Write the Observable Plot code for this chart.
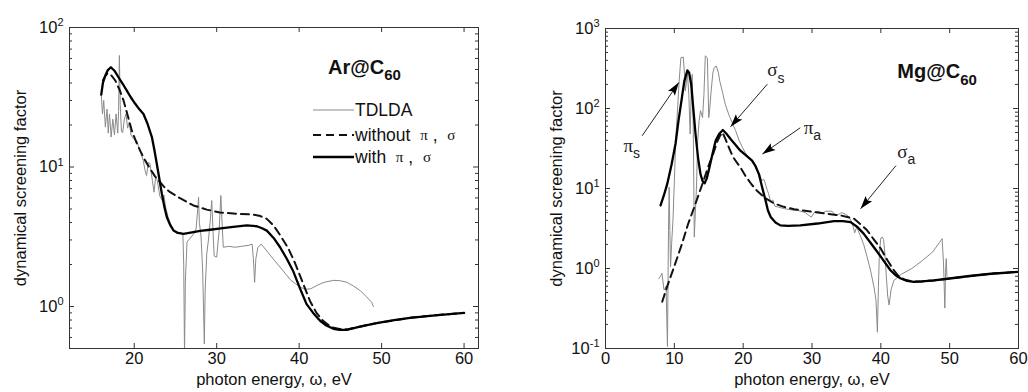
<!DOCTYPE html>
<html><head><meta charset="utf-8">
<script src="https://cdn.jsdelivr.net/npm/d3@7"></script>
<script src="https://cdn.jsdelivr.net/npm/@observablehq/plot@0.6"></script>
<style>
body{margin:0;background:#fff;font-family:"Liberation Sans",Arial,sans-serif;}
#wrap{position:relative;width:1028px;height:392px;overflow:hidden;background:#fff;}
.panel{position:absolute;top:0;}
.row{position:absolute;height:20px;display:flex;align-items:center;white-space:nowrap;font-size:17.5px;color:#111;}
.gk{font-family:"Liberation Serif","Times New Roman",serif;font-size:15px;}
</style></head><body>
<div id="wrap"><div id="left" class="panel" style="left:0"></div><div id="right" class="panel" style="left:520px"></div></div>
<script>
// ---------------- data ----------------
// Ar@C60 : [photon energy eV, screening factor]
const arTDLDA = [[16.0,33],[16.15,24],[16.3,30],[16.5,19.3],[16.7,26],[16.85,17.5],[17.0,24],[17.2,16.4],[17.4,22],[17.6,17],[17.8,24],[18.0,17.5],[18.1,25],[18.2,63],[18.3,28],[18.45,18],[18.6,17.6],[18.8,22],[19.0,24],[19.2,19],[19.4,21],[19.6,17],[19.9,16],[20.3,15.5],[20.7,13],[21.1,11.1],[21.3,9.5],[21.5,8.7],[21.7,10.8],[21.9,10.6],[22.2,8.0],[22.4,6.6],[22.6,8.5],[22.8,8.0],[23.1,6.2],[23.4,5.75],[23.6,6.3],[23.8,5.16],[24.1,4.4],[24.4,3.92],[24.8,3.5],[25.2,3.33],[25.6,3.4],[25.9,3.3],[26.0,2.0],[26.1,0.45],[26.2,1.5],[26.4,2.9],[26.8,3.1],[27.2,3.3],[27.5,3.6],[27.7,5.0],[27.8,6.07],[27.9,4.0],[28.1,3.2],[28.3,1.8],[28.5,0.54],[28.6,1.3],[28.8,2.4],[29.0,3.0],[29.2,4.0],[29.4,5.75],[29.55,3.5],[29.7,2.3],[30.0,2.26],[30.3,3.5],[30.5,6.24],[30.65,4.0],[30.8,2.66],[31.5,2.7],[32.2,2.66],[33.0,2.7],[33.8,2.74],[34.3,2.8],[34.45,2.2],[34.6,1.49],[34.75,2.2],[35.0,2.66],[35.4,2.8],[36.2,2.45],[37.0,2.14],[38.0,1.82],[39.0,1.54],[39.6,1.45],[40.2,1.37],[40.8,1.33],[41.4,1.34],[42.2,1.42],[43.0,1.49],[44.2,1.54],[45.0,1.53],[45.8,1.49],[46.6,1.40],[47.4,1.30],[48.2,1.17],[48.8,1.07],[49.0,1.0]];
const arWithout = [[16.2,41.7],[16.5,45],[16.8,47],[17.2,45.5],[17.7,41.7],[18.2,36],[18.7,30],[19.2,23.5],[19.7,18.3],[20.2,15.3],[20.72,13.1],[21.3,11.2],[21.93,9.7],[22.5,8.6],[23.14,7.78],[23.7,7.1],[24.36,6.6],[25.5,6.0],[27.18,5.3],[28.8,4.95],[30.4,4.72],[32.5,4.62],[34.45,4.56],[35.3,4.45],[36.08,4.25],[36.9,3.8],[37.69,3.25],[38.7,2.6],[39.5,2.05],[40.5,1.45],[41.3,1.1],[42.1,0.9],[42.9,0.79],[43.9,0.71],[44.9,0.69],[45.8,0.685],[47.5,0.72],[49.4,0.76],[53.45,0.83],[56.5,0.865],[60,0.9]];
const arWith = [[16.0,33],[16.2,40],[16.5,45.3],[16.8,49.5],[17.17,51.9],[17.6,49],[18.09,44],[18.6,39.5],[19.1,35.3],[19.6,31.5],[20.1,28.5],[20.6,26],[21.12,24],[21.6,20.5],[22.14,16.4],[22.45,13.2],[22.74,10.5],[23.05,8.2],[23.35,6.43],[23.65,5.2],[23.96,4.36],[24.35,3.85],[24.76,3.51],[25.3,3.37],[25.97,3.32],[27.0,3.4],[28.0,3.48],[29.2,3.55],[30.5,3.63],[32.0,3.72],[33.65,3.81],[34.86,3.76],[35.5,3.64],[36.08,3.5],[36.9,3.1],[37.69,2.66],[38.5,2.2],[39.3,1.78],[40.1,1.35],[40.9,1.04],[41.7,0.9],[42.54,0.79],[43.3,0.73],[44.15,0.692],[44.9,0.68],[45.77,0.68],[47.5,0.72],[49.4,0.76],[51.5,0.8],[53.45,0.83],[56.5,0.865],[60,0.9]];

// Mg@C60
const mgTDLDA = [[7.75,0.75],[8.0,0.8],[8.2,0.87],[8.5,0.54],[8.8,0.6],[9.0,0.106],[9.15,3.0],[9.25,10.4],[9.35,3.0],[9.45,1.05],[9.6,2.0],[9.8,4.0],[10.0,12],[10.2,39.7],[10.5,110],[10.7,220],[10.95,431],[11.3,440],[11.5,250],[11.6,166],[11.9,280],[12.1,150],[12.3,48],[12.45,150],[12.6,267],[12.75,60],[12.9,2.47],[13.05,5],[13.2,9.4],[13.4,40],[13.6,70],[13.8,94],[14.1,77],[14.3,150],[14.5,455],[14.8,430],[15.0,77],[15.15,100],[15.3,150],[15.6,280],[15.8,325],[16.1,340],[16.4,280],[16.6,220],[17.0,160],[17.4,113],[18.0,80],[18.9,53],[19.4,40],[19.9,32.7],[20.3,28],[20.8,24],[21.2,22],[21.5,20.3],[22.0,17],[22.4,15],[22.7,12.6],[23.0,13],[23.2,11.7],[23.5,9.5],[23.7,8.6],[24.0,6.75],[24.3,7.2],[24.6,6.0],[25.1,5.86],[26.0,5.6],[27.0,5.4],[28.0,5.3],[29.0,5.0],[29.9,4.39],[30.4,5.1],[30.9,5.2],[31.5,4.9],[32.0,5.2],[32.9,5.2],[33.4,4.6],[33.8,4.7],[34.3,5.0],[34.8,4.8],[35.3,4.5],[35.8,3.8],[36.2,2.8],[36.5,3.3],[37.0,2.6],[37.5,2.0],[38.0,1.4],[38.5,0.95],[39.0,0.59],[39.3,0.4],[39.5,0.16],[39.65,0.6],[39.8,1.6],[40.0,2.4],[40.2,2.47],[40.4,2.3],[40.6,1.5],[40.8,0.8],[41.0,0.45],[41.2,0.35],[41.5,0.55],[41.9,0.71],[43.0,0.85],[44.5,1.0],[46.0,1.25],[47.5,1.6],[48.5,2.1],[48.9,2.36],[49.1,1.2],[49.3,0.32],[49.4,0.9],[49.5,1.33],[49.6,0.8]];
const mgWithout = [[8.24,0.384],[9.0,0.61],[10.0,1.07],[11.0,1.9],[12.0,3.6],[13.0,6.2],[14.0,10.9],[15.0,19.5],[15.7,28],[16.2,38],[16.6,45],[17.0,50],[17.4,42],[17.9,33],[18.5,25],[19.1,21],[19.6,18.4],[20.3,14.5],[21.2,11.3],[22.0,9.4],[23.2,7.6],[24.5,6.5],[25.9,5.9],[27.4,5.5],[29.8,5.15],[32.2,4.84],[34.2,4.6],[36.1,4.2],[37.0,3.6],[38.0,3.0],[39.0,2.3],[40.0,1.77],[41.0,1.25],[41.9,0.95],[42.6,0.8],[43.4,0.73],[44.5,0.69],[46.0,0.69],[47.7,0.71],[50,0.75],[52.6,0.8],[56,0.86],[60,0.91]];
const mgWith = [[8.0,6.14],[8.5,8.3],[8.97,11.4],[9.6,20],[10.17,36],[10.6,70],[11.1,137],[11.45,220],[11.9,300],[12.15,280],[12.45,200],[12.8,90],[13.08,48],[13.45,24],[13.8,15.2],[14.1,12.4],[14.4,11.6],[14.7,13.3],[15.0,16.8],[15.5,26],[16.0,39.6],[16.5,48],[17.05,53.8],[17.6,48],[18.17,41.6],[18.9,35],[19.6,29.7],[20.5,25.5],[21.3,22.3],[21.8,19],[22.3,15],[22.8,10],[23.25,7.1],[23.6,5.3],[24.0,4.4],[24.7,3.75],[25.4,3.46],[26.5,3.42],[28.3,3.46],[30.8,3.65],[33.2,3.92],[34.5,3.92],[35.6,3.8],[36.6,3.3],[37.5,2.73],[38.5,2.1],[39.5,1.61],[40.5,1.22],[41.4,0.95],[42.1,0.83],[42.9,0.75],[43.8,0.7],[44.8,0.68],[46.0,0.69],[47.7,0.71],[50.0,0.75],[52.6,0.8],[56.0,0.86],[60,0.91]];

// ticks and labels
const arXTicks = [20,30,40,50,60];
const mgXTicks = [0,10,20,30,40,50,60];
const arYTicks = [1,10,100];
const mgYTicks = [0.1,1,10,100,1000];
const xLabel = "photon energy, \u03c9, eV";
const yLabel = "dynamical screening factor";
const legendNames = ["TDLDA","without","with"];
const arTitle = [{x:43.5, y:52, main:"Ar@C", sub:"60"}];
const mgTitle = [{x:42.4, y:290, main:"Mg@C", sub:"60"}];
const mgNotes = [
  {x:2.6, y:34, main:"\u03c0", sub:"s"},
  {x:23.5, y:300, main:"\u03c3", sub:"s"},
  {x:28.8, y:58, main:"\u03c0", sub:"a"},
  {x:42.4, y:29, main:"\u03c3", sub:"a"}
];
const mgArrows = [
  {x1:5.33, y1:45.7, x2:10.65, y2:211},
  {x1:23.5, y1:201, x2:18.17, y2:59.2},
  {x1:28.3, y1:57.5, x2:22.8, y2:27},
  {x1:42.2, y1:19.3, x2:37.06, y2:5.59}
];

// ---------------- drawing ----------------
const tickColor = "#333";
const headSymbol = {draw(ctx){ ctx.moveTo(0,0); ctx.lineTo(-4.2,13); ctx.lineTo(0,10.5); ctx.lineTo(4.2,13); ctx.closePath(); }};

function minorTicks(dom){
  const out = [];
  for (let e = Math.floor(Math.log10(dom[0])); e < Math.ceil(Math.log10(dom[1])); e++) {
    const d = Math.pow(10, e);
    for (let k = 2; k <= 9; k++) { const v = k*d; if (v >= dom[0]*0.999 && v <= dom[1]*1.001) out.push(v); }
  }
  return out;
}

function panel(cfg){
  const {width, height, ml, mr, mt, mb} = cfg;
  const pw = width-ml-mr, ph = height-mt-mb;
  const minor = minorTicks(cfg.yDomain);
  const pts = a => a.map(([x,y]) => ({x, y}));
  const marks = [
    Plot.tickX(cfg.xTicks, {x: d=>d, insetTop: ph-5, stroke: tickColor}),
    Plot.tickX(cfg.xTicks, {x: d=>d, insetBottom: ph-5, stroke: tickColor}),
    Plot.tickY(cfg.yTicks, {y: d=>d, insetRight: pw-5, stroke: tickColor}),
    Plot.tickY(cfg.yTicks, {y: d=>d, insetLeft: pw-5, stroke: tickColor}),
    Plot.tickY(minor, {y: d=>d, insetRight: pw-3, stroke: tickColor}),
    Plot.tickY(minor, {y: d=>d, insetLeft: pw-3, stroke: tickColor}),
    Plot.axisX(cfg.xTicks, {tickSize: 0, tickPadding: 4, fontSize: 16.5, label: xLabel, labelAnchor: "center", labelOffset: 36, labelArrow: "none", fill: "#111"}),
    Plot.axisY(cfg.yTicks, {tickSize: 0, tickPadding: 6, fontSize: 16.5, tickFormat: d => "10^" + Math.round(Math.log10(d)), label: yLabel, labelAnchor: "center", labelOffset: cfg.yLabelOffset, labelArrow: "none", fill: "#111"}),
    Plot.line(pts(cfg.tdlda), {x: "x", y: "y", stroke: "#8a8a8a", strokeWidth: 1, clip: true}),
    Plot.line(pts(cfg.without), {x: "x", y: "y", stroke: "#111", strokeWidth: 2, strokeDasharray: "8,5", clip: true}),
    Plot.line(pts(cfg.withs), {x: "x", y: "y", stroke: "#000", strokeWidth: 2.3, clip: true}),
    Plot.text(cfg.title, {x: "x", y: "y", text: "main", textAnchor: "start", fontSize: 20, fontWeight: "bold", fill: "#111"}),
    Plot.frame({stroke: tickColor})
  ];
  if (cfg.notes) {
    const sx = Plot.scale({x: {domain: cfg.xDomain, range: [ml, width-mr]}});
    const sy = Plot.scale({y: {type: "log", domain: cfg.yDomain, range: [height-mb, mt]}});
    const ang = d => {
      const dx = sx.apply(d.x2) - sx.apply(d.x1), dy = sy.apply(d.y2) - sy.apply(d.y1);
      return Math.atan2(dx, -dy) * 180 / Math.PI;
    };
    marks.push(
      Plot.link(cfg.arrows, {x1: "x1", y1: "y1", x2: "x2", y2: "y2", stroke: "#222", strokeWidth: 1}),
      Plot.dot(cfg.arrows, {x: "x2", y: "y2", r: 5, symbol: headSymbol, rotate: ang, fill: "#000", stroke: "none"}),
      Plot.text(cfg.notes, {x: "x", y: "y", text: "main", textAnchor: "start", fontSize: 19, fontFamily: '"Liberation Serif", serif', fill: "#222"})
    );
  }
  const svg = Plot.plot({
    width, height, marginLeft: ml, marginRight: mr, marginTop: mt, marginBottom: mb,
    x: {domain: cfg.xDomain},
    y: {type: "log", domain: cfg.yDomain},
    style: {fontFamily: '"Liberation Sans", Arial, sans-serif', fontSize: "17px", color: "#111", background: "transparent", overflow: "visible"},
    marks
  });
  // superscript exponents on the log tick labels
  d3.select(svg).selectAll('g[aria-label="y-axis tick label"] text').each(function(){
    const parts = this.textContent.split("^");
    if (parts.length < 2) return;
    const s = d3.select(this); s.text(parts[0]);
    s.append("tspan").attr("dy", "-0.6em").attr("font-size", "11px").text(parts[1]);
  });
  // subscripts on the text marks (group order: title, then notes)
  const groups = d3.select(svg).selectAll('g[aria-label="text"]').nodes();
  if (groups[0]) d3.select(groups[0]).selectAll("text").each(function(_, i){
    d3.select(this).append("tspan").attr("dy", "0.45em").attr("font-size", "15px").text(cfg.title[i].sub);
  });
  if (cfg.notes && groups[1]) d3.select(groups[1]).selectAll("text").each(function(_, i){
    d3.select(this).append("tspan").attr("dy", "0.45em").attr("font-size", "14px")
      .attr("font-family", '"Liberation Sans", Arial, sans-serif').text(cfg.notes[i].sub);
  });
  return svg;
}

const left = panel({width: 500, height: 392, ml: 69, mr: 22, mt: 27, mb: 44,
  xDomain: [12.15, 61.75], yDomain: [0.5, 100], xTicks: arXTicks, yTicks: arYTicks, yLabelOffset: 55,
  tdlda: arTDLDA, without: arWithout, withs: arWith, title: arTitle});
const right = panel({width: 508, height: 392, ml: 85, mr: 10, mt: 28, mb: 44,
  xDomain: [0, 60], yDomain: [0.1, 1000], xTicks: mgXTicks, yTicks: mgYTicks, yLabelOffset: 55,
  tdlda: mgTDLDA, without: mgWithout, withs: mgWith, title: mgTitle, notes: mgNotes, arrows: mgArrows});
document.getElementById("left").appendChild(left);
document.getElementById("right").appendChild(right);

// legend (left panel)
const leg = d3.select("#left");
const legStyles = [{stroke: "#8a8a8a", w: 1, dash: null}, {stroke: "#111", w: 2, dash: "8,5"}, {stroke: "#000", w: 2.3, dash: null}];
const rowTops = [100, 125, 147];
legendNames.forEach((name, i) => {
  const row = leg.append("div").attr("class", "row").style("left", "313px").style("top", rowTops[i] + "px");
  const s = row.append("svg").attr("width", 41).attr("height", 6);
  s.append("line").attr("x1", 0).attr("x2", 41).attr("y1", 3).attr("y2", 3)
    .attr("stroke", legStyles[i].stroke).attr("stroke-width", legStyles[i].w)
    .attr("stroke-dasharray", legStyles[i].dash);
  row.append("span").style("margin-left", "1px").text(name);
  if (i > 0) {
    row.append("span").html("&nbsp;&nbsp;");
    row.append("span").attr("class", "gk").text("\u03c0");
    row.append("span").html("&nbsp;,&nbsp;&nbsp;");
    row.append("span").attr("class", "gk").text("\u03c3");
  }
});
</script>
</body></html>
